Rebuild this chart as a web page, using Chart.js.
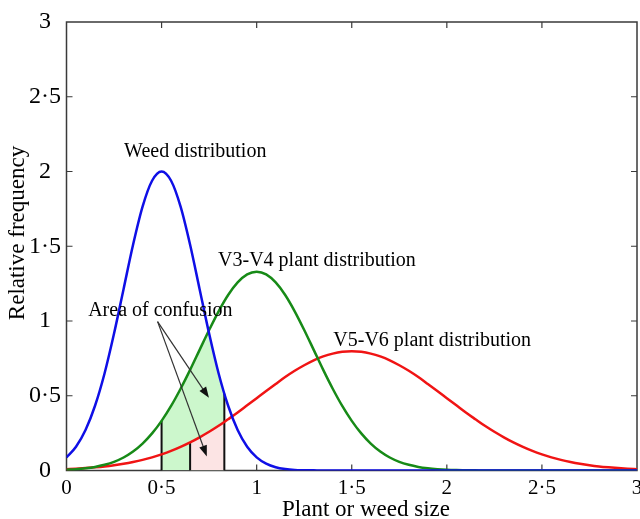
<!DOCTYPE html>
<html lang="en">
<head>
    <meta charset="UTF-8">
    <title>Plant and weed size distributions</title>
    <style>
        body {
            margin: 0;
            background: #ffffff;
        }
        #wrap {
            width: 640px;
            height: 519px;
        }
    </style>
    <script src="https://cdn.jsdelivr.net/npm/chart.js"></script>
</head>
<body>
    <div id="wrap">
        <canvas id="sizeChart" width="640" height="519"></canvas>
    </div>
    <script>
        // plant or weed size (x), shared by the three curves
        const sizes = [0, 0.05, 0.1, 0.15, 0.2, 0.25, 0.3, 0.35, 0.4, 0.45, 0.5, 0.55, 0.6, 0.65, 0.7, 0.75, 0.8, 0.85, 0.9, 0.95,
            1, 1.05, 1.1, 1.15, 1.2, 1.25, 1.3, 1.35, 1.4, 1.45, 1.5, 1.55, 1.6, 1.65, 1.7, 1.75, 1.8, 1.85, 1.9, 1.95,
            2, 2.05, 2.1, 2.15, 2.2, 2.25, 2.3, 2.35, 2.4, 2.45, 2.5, 2.55, 2.6, 2.65, 2.7, 2.75, 2.8, 2.85, 2.9, 2.95, 3];

        const weed = [0.088, 0.159, 0.271, 0.433, 0.649, 0.916, 1.213, 1.510, 1.765, 1.938, 2.0, 1.938, 1.765, 1.510, 1.213, 0.916,
            0.649, 0.433, 0.271, 0.159, 0.088, 0.046, 0.022, 0.010, 0.004, 0.002, 0.001, 0, 0, 0, 0, 0, 0, 0, 0, 0, 0, 0, 0, 0,
            0, 0, 0, 0, 0, 0, 0, 0, 0, 0, 0, 0, 0, 0, 0, 0, 0, 0, 0, 0, 0];

        const v3v4 = [0.005, 0.009, 0.015, 0.024, 0.038, 0.058, 0.087, 0.127, 0.180, 0.248, 0.332, 0.432, 0.547, 0.673, 0.807, 0.940,
            1.065, 1.174, 1.258, 1.312, 1.33, 1.312, 1.258, 1.174, 1.065, 0.940, 0.807, 0.673, 0.547, 0.432, 0.332, 0.248, 0.180,
            0.127, 0.087, 0.058, 0.038, 0.024, 0.015, 0.009, 0.005, 0.003, 0.002, 0.001, 0, 0, 0, 0, 0, 0, 0, 0, 0, 0, 0, 0, 0, 0, 0, 0, 0];

        const v5v6 = [0.009, 0.012, 0.016, 0.021, 0.027, 0.035, 0.045, 0.057, 0.071, 0.088, 0.108, 0.131, 0.158, 0.188, 0.222, 0.259,
            0.299, 0.343, 0.388, 0.436, 0.484, 0.532, 0.579, 0.625, 0.667, 0.704, 0.737, 0.763, 0.782, 0.794, 0.798, 0.794, 0.782,
            0.763, 0.737, 0.704, 0.667, 0.625, 0.579, 0.532, 0.484, 0.436, 0.388, 0.343, 0.299, 0.259, 0.222, 0.188, 0.158, 0.131,
            0.108, 0.088, 0.071, 0.057, 0.045, 0.035, 0.027, 0.021, 0.016, 0.012, 0.009];

        // area of confusion: green part (under the lower of weed / V3-V4) and pink part (under V5-V6)
        const confusionX = [0.5, 0.55, 0.6, 0.65, 0.7, 0.725, 0.7475, 0.75, 0.775, 0.8, 0.815, 0.83];
        const confusionY = [0.332, 0.432, 0.547, 0.673, 0.807, 0.874, 0.933, 0.916, 0.777, 0.649, 0.579, 0.513];
        const overlapX = [0.65, 0.7, 0.75, 0.8, 0.83];
        const overlapY = [0.188, 0.222, 0.259, 0.299, 0.325];
        const boundX = [0.5, 0.65, 0.83];
        const boundTop = [0.332, 0.188, 0.513];

        const xTicks = [0, 0.5, 1, 1.5, 2, 2.5, 3];
        const yTicks = [0, 0.5, 1, 1.5, 2, 2.5, 3];

        const SERIF = '"Liberation Serif", "Times New Roman", serif';

        const pts = (xs, ys) => xs.map((v, i) => ({ x: v, y: ys[i] }));
        const dotted = v => String(v).replace('.', '\u00b7');

        const notes = [
            { text: 'Weed distribution', x: 0.303, y: 2.095 },
            { text: 'V3-V4 plant distribution', x: 0.797, y: 1.370 },
            { text: 'V5-V6 plant distribution', x: 1.403, y: 0.834 },
            { text: 'Area of confusion', x: 0.114, y: 1.034 }
        ];
        const arrows = [
            { from: [0.479, 0.996], to: [0.749, 0.486] },
            { from: [0.479, 0.996], to: [0.738, 0.094] }
        ];

        const curve = (label, data, color) => ({
            label: label,
            data: pts(sizes, data),
            borderColor: color,
            borderWidth: 2.5,
            pointRadius: 0,
            cubicInterpolationMode: 'monotone',
            fill: false,
            order: 1
        });

        const datasets = [
            {
                label: 'confusion',
                data: pts(confusionX, confusionY),
                borderWidth: 0,
                borderColor: 'rgba(0,0,0,0)',
                backgroundColor: '#ccf7cc',
                pointRadius: 0,
                fill: 'origin',
                order: 4
            },
            {
                label: 'overlap',
                data: pts(overlapX, overlapY),
                borderWidth: 0,
                borderColor: 'rgba(0,0,0,0)',
                backgroundColor: '#fce4e4',
                pointRadius: 0,
                fill: 'origin',
                order: 3
            }
        ];
        boundX.forEach((b, i) => {
            datasets.push({
                label: 'bound' + i,
                data: [{ x: b, y: 0 }, { x: b, y: boundTop[i] }],
                borderColor: '#111',
                borderWidth: 2,
                pointRadius: 0,
                fill: false,
                order: 2
            });
        });
        datasets.push(curve('Weed distribution', weed, '#0f0fe6'));
        datasets.push(curve('V3-V4 plant distribution', v3v4, '#178a17'));
        datasets.push(curve('V5-V6 plant distribution', v5v6, '#f01414'));

        const decor = {
            id: 'decor',
            beforeDatasetsDraw(chart) {
                const { ctx, chartArea: a, scales: { x, y } } = chart;
                ctx.save();
                ctx.strokeStyle = '#3a3a3a';
                ctx.lineWidth = 1.5;
                ctx.strokeRect(a.left, a.top, a.right - a.left, a.bottom - a.top);
                ctx.lineWidth = 1.2;
                ctx.beginPath();
                xTicks.slice(1, -1).forEach(v => {
                    const px = x.getPixelForValue(v);
                    ctx.moveTo(px, a.bottom); ctx.lineTo(px, a.bottom - 6);
                    ctx.moveTo(px, a.top); ctx.lineTo(px, a.top + 6);
                });
                yTicks.slice(1, -1).forEach(v => {
                    const py = y.getPixelForValue(v);
                    ctx.moveTo(a.left, py); ctx.lineTo(a.left + 6, py);
                    ctx.moveTo(a.right, py); ctx.lineTo(a.right - 6, py);
                });
                ctx.stroke();
                ctx.restore();
            },
            afterDatasetsDraw(chart) {
                const { ctx, scales: { x, y } } = chart;
                ctx.save();
                // arrows
                arrows.forEach(ar => {
                    const x0 = x.getPixelForValue(ar.from[0]), y0 = y.getPixelForValue(ar.from[1]);
                    const x1 = x.getPixelForValue(ar.to[0]), y1 = y.getPixelForValue(ar.to[1]);
                    const ang = Math.atan2(y1 - y0, x1 - x0);
                    const len = 11, half = 4;
                    ctx.strokeStyle = '#333';
                    ctx.lineWidth = 1.2;
                    ctx.beginPath();
                    ctx.moveTo(x0, y0);
                    ctx.lineTo(x1 - Math.cos(ang) * len * 0.8, y1 - Math.sin(ang) * len * 0.8);
                    ctx.stroke();
                    ctx.fillStyle = '#111';
                    ctx.beginPath();
                    ctx.moveTo(x1, y1);
                    ctx.lineTo(x1 - Math.cos(ang) * len - Math.sin(ang) * half, y1 - Math.sin(ang) * len + Math.cos(ang) * half);
                    ctx.lineTo(x1 - Math.cos(ang) * len + Math.sin(ang) * half, y1 - Math.sin(ang) * len - Math.cos(ang) * half);
                    ctx.closePath();
                    ctx.fill();
                });
                // curve labels
                ctx.fillStyle = '#000';
                ctx.font = '20px ' + SERIF;
                ctx.textAlign = 'left';
                ctx.textBaseline = 'alphabetic';
                notes.forEach(n => {
                    ctx.fillText(n.text, x.getPixelForValue(n.x), y.getPixelForValue(n.y));
                });
                // axis titles
                ctx.font = '23px ' + SERIF;
                ctx.textAlign = 'center';
                ctx.textBaseline = 'middle';
                ctx.fillText('Plant or weed size', 366, 510);
                ctx.translate(18, 233);
                ctx.rotate(-Math.PI / 2);
                ctx.fillText('Relative frequency', 0, 0);
                ctx.restore();
            }
        };

        new Chart(document.getElementById('sizeChart'), {
            type: 'scatter',
            data: { datasets: datasets },
            options: {
                responsive: false,
                animation: false,
                showLine: true,
                layout: { padding: { top: 22, right: 3, left: 0, bottom: 0 } },
                plugins: {
                    legend: { display: false },
                    tooltip: { enabled: false }
                },
                scales: {
                    x: {
                        type: 'linear',
                        min: 0,
                        max: 3,
                        grid: { display: false, drawTicks: false },
                        border: { display: false },
                        afterBuildTicks: s => { s.ticks = xTicks.map(v => ({ value: v })); },
                        afterFit: s => { s.height = 48.5; s.paddingLeft = 0; s.paddingRight = 0; },
                        ticks: {
                            autoSkip: false,
                            maxRotation: 0,
                            padding: 5,
                            color: '#000',
                            font: { family: SERIF, size: 21 },
                            callback: v => dotted(v)
                        }
                    },
                    y: {
                        min: 0,
                        max: 3,
                        grid: { display: false, drawTicks: false },
                        border: { display: false },
                        afterBuildTicks: s => { s.ticks = yTicks.map(v => ({ value: v })); },
                        afterFit: s => { s.width = 66.5; s.paddingTop = 0; s.paddingBottom = 0; },
                        ticks: {
                            crossAlign: 'center',
                            padding: 5.5,
                            color: '#000',
                            font: { family: SERIF, size: 24 },
                            callback: v => dotted(v)
                        }
                    }
                }
            },
            plugins: [decor]
        });
    </script>
</body>
</html>
